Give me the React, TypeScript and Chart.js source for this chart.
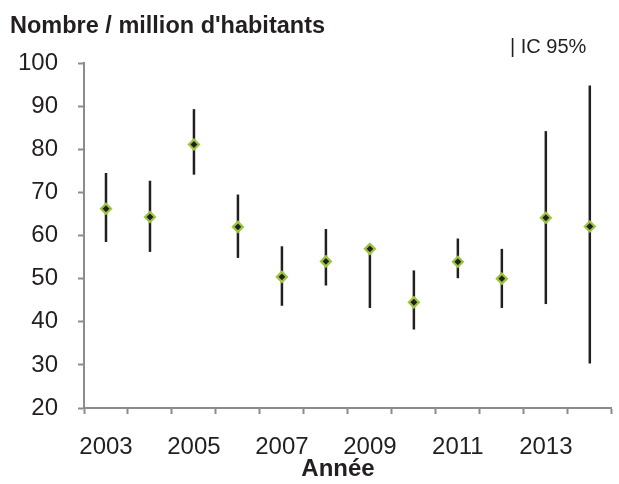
import { useEffect, useRef } from 'react';
import { Chart, registerables } from 'chart.js';

Chart.register(...registerables);

// Taux annuel (nombre / million d'habitants) et intervalle de confiance à 95 %
const years = ['2003', '2004', '2005', '2006', '2007', '2008', '2009', '2010', '2011', '2012', '2013', '2014'];
const rate = [66.2, 64.3, 81.1, 62.0, 50.4, 54.0, 56.9, 44.5, 53.9, 50.0, 64.1, 62.1];
const ciLow = [58.5, 56.2, 74.1, 54.8, 43.7, 48.4, 43.2, 38.2, 50.1, 43.2, 44.1, 30.3];
const ciHigh = [74.5, 72.7, 89.3, 69.5, 57.5, 61.5, 57.0, 51.9, 59.3, 56.9, 84.2, 94.8];

const yMin = 20;
const yMax = 100;
const yStep = 10;

const FONT = "'Liberation Sans', Arial, sans-serif";
const INK = '#231f20';
const AXIS = '#8c8c8c';
const MARKER_EDGE = '#9dc63f';

// Vertical lines from the lower to the upper confidence bound, drawn under the markers
const errorBars = {
  id: 'errorBars',
  beforeDatasetsDraw(chart: any) {
    const { ctx, scales } = chart;
    const x = scales.x;
    const y = scales.y;
    ctx.save();
    ctx.strokeStyle = INK;
    ctx.lineWidth = 2.5;
    ctx.lineCap = 'butt';
    years.forEach((_, i) => {
      const px = x.getPixelForValue(i);
      ctx.beginPath();
      ctx.moveTo(px, y.getPixelForValue(ciHigh[i]));
      ctx.lineTo(px, y.getPixelForValue(ciLow[i]));
      ctx.stroke();
    });
    ctx.restore();
  },
};

// Unit label, confidence-interval key and x-axis caption
const captions = {
  id: 'captions',
  afterDraw(chart: any) {
    const { ctx } = chart;
    ctx.save();
    ctx.fillStyle = INK;
    ctx.textBaseline = 'alphabetic';
    ctx.textAlign = 'left';
    ctx.font = `bold 23.5px ${FONT}`;
    ctx.fillText("Nombre / million d'habitants", 10, 33);
    ctx.font = `20px ${FONT}`;
    ctx.fillText('| IC 95%', 510, 53);
    ctx.textAlign = 'center';
    ctx.font = `bold 24px ${FONT}`;
    ctx.fillText('Année', 338, 476);
    ctx.restore();
  },
};

export default function App() {
  const canvasRef = useRef<HTMLCanvasElement | null>(null);

  useEffect(() => {
    const canvas = canvasRef.current;
    if (!canvas) return;
    const chart = new Chart(canvas, {
      type: 'line',
      data: {
        labels: years,
        datasets: [
          {
            data: rate,
            showLine: false,
            pointStyle: 'rectRot',
            pointRadius: 5,
            pointHoverRadius: 5,
            pointBorderWidth: 2.2,
            pointBackgroundColor: INK,
            pointBorderColor: MARKER_EDGE,
          },
        ],
      },
      options: {
        responsive: false,
        animation: false,
        devicePixelRatio: 1,
        layout: { padding: { top: 63, left: 0, right: 0, bottom: 0 } },
        plugins: {
          legend: { display: false },
          title: { display: false },
          tooltip: { enabled: false },
        },
        scales: {
          x: {
            type: 'category',
            offset: true,
            afterFit(scale: any) {
              scale.height = 76;
            },
            grid: {
              offset: true,
              drawOnChartArea: false,
              drawTicks: true,
              tickLength: 6,
              tickWidth: 2,
              tickColor: AXIS,
              color: AXIS,
            },
            border: { display: true, color: AXIS, width: 2 },
            ticks: {
              autoSkip: false,
              maxRotation: 0,
              minRotation: 0,
              padding: 19,
              color: INK,
              font: { family: FONT, size: 24 },
              callback: (_v: any, i: number) => (i % 2 === 0 ? years[i] : ''),
            },
          },
          y: {
            min: yMin,
            max: yMax,
            afterFit(scale: any) {
              scale.width = 84;
            },
            grid: {
              drawOnChartArea: false,
              drawTicks: true,
              tickLength: 6,
              tickWidth: 2,
              tickColor: AXIS,
              color: AXIS,
            },
            border: { display: true, color: AXIS, width: 2 },
            ticks: {
              stepSize: yStep,
              padding: 20,
              color: INK,
              font: { family: FONT, size: 24 },
            },
          },
        },
      },
      plugins: [errorBars, captions],
    });
    return () => chart.destroy();
  }, []);

  return (
    <div style={{ position: 'absolute', left: 0, top: 0, width: 619, height: 484, background: '#ffffff' }}>
      <canvas ref={canvasRef} width={619} height={484} style={{ display: 'block' }} />
    </div>
  );
}
